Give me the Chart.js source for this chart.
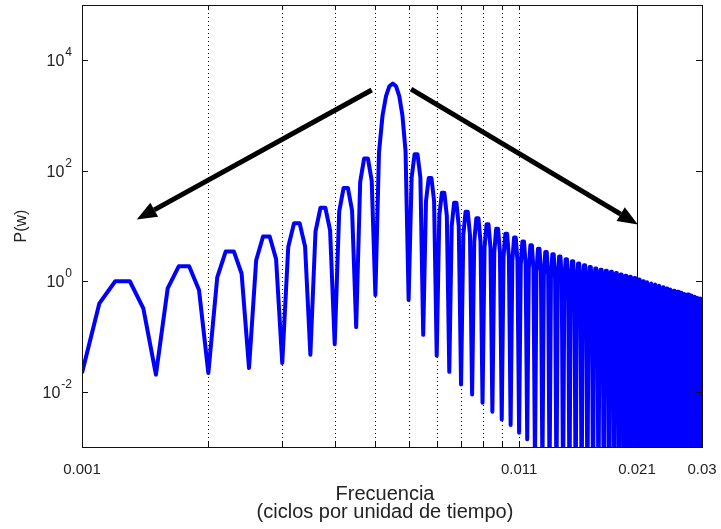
<!DOCTYPE html>
<html>
<head>
<meta charset="utf-8">
<script src="https://cdn.jsdelivr.net/npm/chart.js@4.4.0/dist/chart.umd.min.js"></script>
<style>
  html, body { margin: 0; padding: 0; background: #fff; }
</style>
</head>
<body>
<canvas id="spectrum" width="721" height="529"></canvas>
<script>
// Periodogram sampled every 0.0001 from 0.001 to 0.030
const freqStart = 0.001;
const freqStep = 0.0001;

// log10 of P(w), one row per side lobe (null, rise, top, top, fall)
const powerExp = [
  -1.66, -0.40, 0.00, 0.00, -0.49,   // 0.0010
  -1.69, -0.13, 0.27, 0.27, -0.16,   // 0.0015
  -1.66, 0.07, 0.54, 0.54, 0.14,     // 0.0020
  -1.57, 0.38, 0.81, 0.81, 0.40,     // 0.0025
  -1.48, 0.62, 1.05, 1.05, 0.63,     // 0.0030
  -1.33, 0.90, 1.33, 1.33, 0.92,     // 0.0035
  -1.14, 1.26, 1.69, 1.69, 1.28,     // 0.0040
  -0.83, 1.80, 2.22, 2.22, 1.82,     // 0.0045
  -0.25, 2.33, 3.00, 3.35, 3.53,     // 0.0050 main lobe
  3.58, 3.53, 3.35, 3.00, 2.35,      // 0.0055
  -0.34, 1.88, 2.30, 2.30, 1.88,     // 0.0060
  -0.97, 1.45, 1.87, 1.87, 1.45,     // 0.0065
  -1.35, 1.18, 1.60, 1.60, 1.18,     // 0.0070
  -1.64, 1.00, 1.42, 1.42, 1.00,     // 0.0075
  -1.87, 0.84, 1.26, 1.26, 0.84,     // 0.0080
  -2.05, 0.72, 1.14, 1.14, 0.72,     // 0.0085
  -2.20, 0.61, 1.03, 1.03, 0.61,     // 0.0090
  -2.36, 0.53, 0.95, 0.95, 0.53,     // 0.0095
  -2.50, 0.44, 0.86, 0.86, 0.44,     // 0.0100
  -2.60, 0.37, 0.79, 0.79, 0.37,     // 0.0105
  -2.74, 0.30, 0.72, 0.72, 0.30,     // 0.0110
  -2.86, 0.23, 0.65, 0.65, 0.23,     // 0.0115
  -3.30, 0.17, 0.59, 0.59, 0.17,     // 0.0120
  -3.45, 0.11, 0.53, 0.53, 0.11,     // 0.0125
  -3.60, 0.07, 0.49, 0.49, 0.07,     // 0.0130
  -3.70, 0.03, 0.45, 0.45, 0.03,     // 0.0135
  -3.80, -0.02, 0.40, 0.40, -0.02,   // 0.0140
  -3.90, -0.06, 0.36, 0.36, -0.06,   // 0.0145
  -4.00, -0.10, 0.32, 0.32, -0.10,   // 0.0150
  -4.00, -0.13, 0.29, 0.29, -0.13,   // 0.0155
  -4.10, -0.16, 0.26, 0.26, -0.16,   // 0.0160
  -4.10, -0.19, 0.23, 0.23, -0.19,   // 0.0165
  -4.20, -0.21, 0.21, 0.21, -0.21,   // 0.0170
  -4.20, -0.23, 0.19, 0.19, -0.23,   // 0.0175
  -4.30, -0.25, 0.17, 0.17, -0.25,   // 0.0180
  -4.30, -0.27, 0.15, 0.15, -0.27,   // 0.0185
  -4.30, -0.30, 0.12, 0.12, -0.30,   // 0.0190
  -4.40, -0.32, 0.10, 0.10, -0.32,   // 0.0195
  -4.40, -0.34, 0.08, 0.08, -0.34,   // 0.0200
  -4.40, -0.36, 0.06, 0.06, -0.36,   // 0.0205
  -4.50, -0.39, 0.03, 0.03, -0.39,   // 0.0210
  -4.50, -0.42, 0.00, 0.00, -0.42,   // 0.0215
  -4.50, -0.44, -0.02, -0.02, -0.44, // 0.0220
  -4.60, -0.46, -0.04, -0.04, -0.46, // 0.0225
  -4.60, -0.48, -0.06, -0.06, -0.48, // 0.0230
  -4.60, -0.50, -0.08, -0.08, -0.50, // 0.0235
  -4.70, -0.53, -0.11, -0.11, -0.53, // 0.0240
  -4.70, -0.55, -0.13, -0.13, -0.55, // 0.0245
  -4.70, -0.57, -0.15, -0.15, -0.57, // 0.0250
  -4.70, -0.59, -0.17, -0.17, -0.59, // 0.0255
  -4.80, -0.61, -0.19, -0.19, -0.61, // 0.0260
  -4.80, -0.63, -0.21, -0.21, -0.63, // 0.0265
  -4.80, -0.65, -0.23, -0.23, -0.65, // 0.0270
  -4.80, -0.66, -0.24, -0.24, -0.66, // 0.0275
  -4.90, -0.68, -0.26, -0.26, -0.68, // 0.0280
  -4.90, -0.70, -0.28, -0.28, -0.70, // 0.0285
  -4.90, -0.72, -0.30, -0.30, -0.72, // 0.0290
  -4.90, -0.73, -0.31, -0.31, -0.73, // 0.0295
  -5.00                              // 0.0300
];

// axis ticks
const xTicks = [0.001, 0.002, 0.003, 0.004, 0.005, 0.006, 0.007, 0.008, 0.009, 0.01, 0.011, 0.021, 0.03];
const xTickLabels = ["0.001", "", "", "", "", "", "", "", "", "", "0.011", "0.021", "0.03"];
const yTicks = [1e-2, 1, 1e2, 1e4];
const yTickExps = ["-2", "0", "2", "4"];
const dottedFreqs = [0.002, 0.003, 0.004, 0.005, 0.006, 0.007, 0.008, 0.009, 0.01, 0.011];
const markerFreq = 0.021;

// the two arrows pointing out from the main lobe, in data units
const arrowTails = [[0.0049, 2900], [0.00608, 3000]];
const arrowTips = [[0.00135, 13.1], [0.0211, 10.7]];

const FONT = '"Liberation Sans", Arial, sans-serif';
const INK = "#222";

const points = powerExp.map((e, i) => ({
  x: +(freqStart + i * freqStep).toFixed(4),
  y: Math.pow(10, e),
}));

// frame, ticks, labels and annotations drawn around the chart area
const axesBox = {
  id: "axesBox",
  beforeDatasetsDraw(chart) {
    const { ctx, chartArea: a, scales: { x } } = chart;
    ctx.save();
    ctx.strokeStyle = "#000";
    ctx.lineWidth = 1;
    ctx.setLineDash([1, 3]);
    dottedFreqs.forEach((f) => {
      const px = Math.round(x.getPixelForValue(f)) + 0.5;
      ctx.beginPath();
      ctx.moveTo(px, a.top);
      ctx.lineTo(px, a.bottom);
      ctx.stroke();
    });
    ctx.setLineDash([]);
    const mx = Math.round(x.getPixelForValue(markerFreq)) + 0.5;
    ctx.beginPath();
    ctx.moveTo(mx, a.top);
    ctx.lineTo(mx, a.bottom);
    ctx.stroke();
    ctx.restore();
  },
  afterDatasetsDraw(chart) {
    const { ctx, chartArea: a, scales: { x, y } } = chart;
    ctx.save();

    // box
    ctx.strokeStyle = "#111";
    ctx.lineWidth = 1;
    ctx.strokeRect(Math.round(a.left) + 0.5, Math.round(a.top) + 0.5,
      Math.round(a.right - a.left), Math.round(a.bottom - a.top));

    // inward tick marks
    ctx.beginPath();
    xTicks.forEach((f) => {
      const px = Math.round(x.getPixelForValue(f)) + 0.5;
      ctx.moveTo(px, a.bottom); ctx.lineTo(px, a.bottom - 5);
      ctx.moveTo(px, a.top); ctx.lineTo(px, a.top + 5);
    });
    yTicks.forEach((v) => {
      const py = Math.round(y.getPixelForValue(v)) + 0.5;
      ctx.moveTo(a.left, py); ctx.lineTo(a.left + 6, py);
      ctx.moveTo(a.right, py); ctx.lineTo(a.right - 6, py);
    });
    ctx.stroke();

    ctx.fillStyle = INK;
    // x tick labels
    ctx.font = "15px " + FONT;
    ctx.textAlign = "center";
    ctx.textBaseline = "alphabetic";
    xTicks.forEach((f, i) => {
      if (xTickLabels[i]) ctx.fillText(xTickLabels[i], x.getPixelForValue(f), a.bottom + 27);
    });

    // y tick labels as 10 with a raised exponent
    ctx.textAlign = "left";
    yTicks.forEach((v, i) => {
      const py = y.getPixelForValue(v);
      ctx.font = "16px " + FONT;
      const wBase = ctx.measureText("10").width;
      ctx.font = "12px " + FONT;
      const wExp = ctx.measureText(yTickExps[i]).width;
      const left = a.left - 11 - wBase - wExp;
      ctx.font = "16px " + FONT;
      ctx.fillText("10", left, py + 6);
      ctx.font = "12px " + FONT;
      ctx.fillText(yTickExps[i], left + wBase + 1, py - 4);
    });

    // axis titles
    ctx.textAlign = "center";
    ctx.font = "20px " + FONT;
    const cx = 385;
    ctx.fillText("Frecuencia", cx, a.bottom + 53);
    ctx.fillText("(ciclos por unidad de tiempo)", cx, a.bottom + 71);
    ctx.save();
    ctx.translate(26, (a.top + a.bottom) / 2);
    ctx.rotate(-Math.PI / 2);
    ctx.font = "16px " + FONT;
    ctx.fillText("P(w)", 0, 0);
    ctx.restore();

    // arrows
    ctx.strokeStyle = "#000";
    ctx.fillStyle = "#000";
    ctx.lineWidth = 5;
    arrowTails.forEach((t, i) => {
      const x0 = x.getPixelForValue(t[0]), y0 = y.getPixelForValue(t[1]);
      const x1 = x.getPixelForValue(arrowTips[i][0]), y1 = y.getPixelForValue(arrowTips[i][1]);
      const ang = Math.atan2(y1 - y0, x1 - x0);
      const headLen = 20, headHalf = 8;
      const bx = x1 - headLen * Math.cos(ang), by = y1 - headLen * Math.sin(ang);
      ctx.beginPath();
      ctx.moveTo(x0, y0);
      ctx.lineTo(bx, by);
      ctx.stroke();
      ctx.beginPath();
      ctx.moveTo(x1, y1);
      ctx.lineTo(bx + headHalf * Math.sin(ang), by - headHalf * Math.cos(ang));
      ctx.lineTo(bx - headHalf * Math.sin(ang), by + headHalf * Math.cos(ang));
      ctx.closePath();
      ctx.fill();
    });

    ctx.restore();
  },
};

new Chart(document.getElementById("spectrum").getContext("2d"), {
  type: "line",
  data: {
    datasets: [
      {
        data: points,
        borderColor: "#0000ff",
        borderWidth: 4,
        borderJoinStyle: "round",
        pointRadius: 0,
        tension: 0,
        fill: false,
        clip: 0,
      },
    ],
  },
  options: {
    responsive: false,
    animation: false,
    layout: { padding: { left: 82, top: 5, right: 19, bottom: 82 } },
    scales: {
      x: { type: "logarithmic", min: 0.001, max: 0.03, display: false },
      y: { type: "logarithmic", min: 1e-3, max: 1e5, display: false },
    },
    plugins: {
      legend: { display: false },
      tooltip: { enabled: false },
    },
  },
  plugins: [axesBox],
});
</script>
</body>
</html>
